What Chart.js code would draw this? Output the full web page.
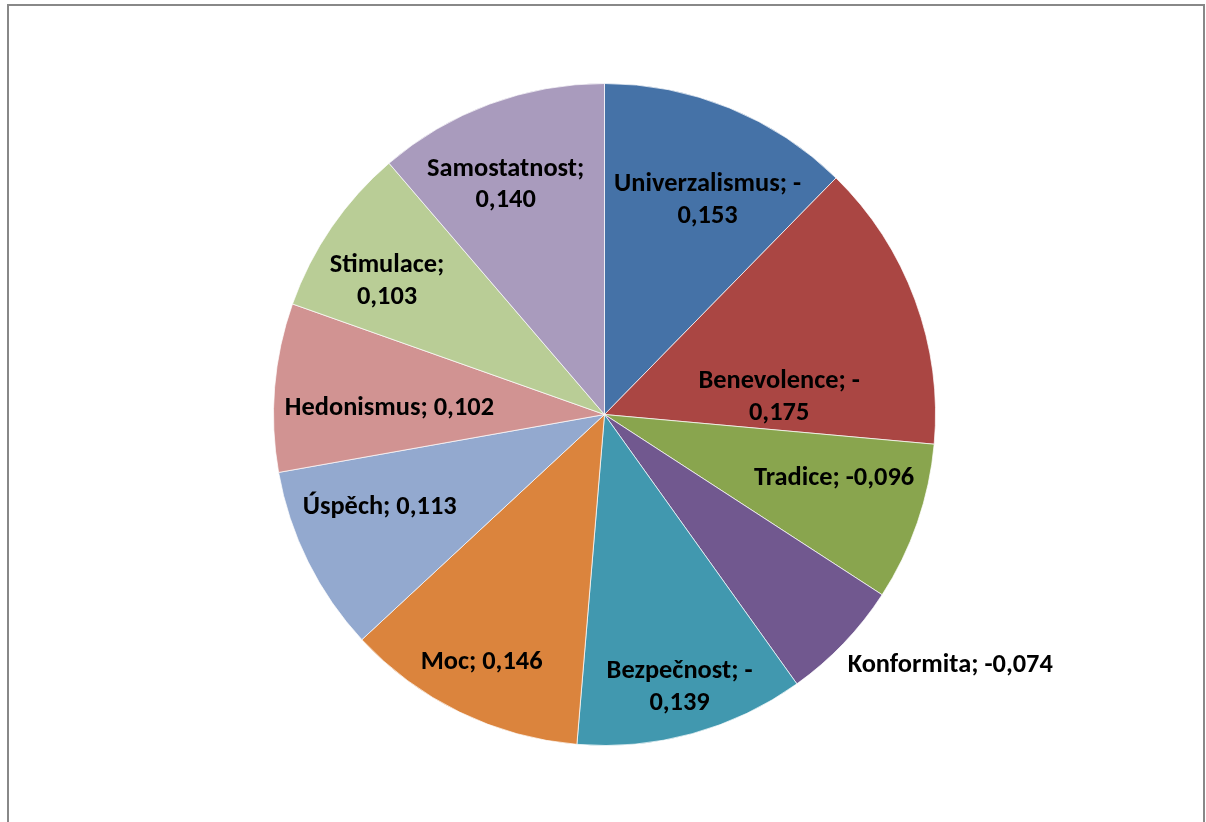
<!DOCTYPE html>
<html><head><meta charset="utf-8">
<script src="https://cdn.jsdelivr.net/npm/chart.js@4.4.0/dist/chart.umd.min.js"></script>
<style>
html,body{margin:0;padding:0;background:#fff;overflow:hidden}
#wrap{position:absolute;left:0;top:0;width:1206px;height:822px}
#frame{position:absolute;left:7px;top:4px;width:1198px;height:840px;border:2px solid #888888;box-sizing:border-box}
#c{position:absolute;left:0;top:0}
</style></head><body>
<div id="wrap"><div id="frame"></div><canvas id="c" width="1206" height="822"></canvas></div>
<script>
const categories = ['Univerzalismus','Benevolence','Tradice','Konformita','Bezpečnost','Moc','Úspěch','Hedonismus','Stimulace','Samostatnost'];
const values = [-0.153,-0.175,-0.096,-0.074,-0.139,0.146,0.113,0.102,0.103,0.140];
const colors = ['#4572A7','#AA4643','#89A54E','#71588F','#4198AF','#DB843D','#93A9CF','#D19392','#B9CD96','#A99BBD'];
const wrapLabel = [true,true,false,false,true,false,false,false,true,true];

// label placement relative to each slice (fraction of radius, angle shift in degrees)
const labelRadius = [0.718,0.53,0.72,1.29,0.855,0.836,0.735,0.65,0.77,0.755];
const labelShift = [3.5,14.7,-3.5,-7.8,0,0.4,4,-3,-3,-3];

const FONT_FAMILY = 'Carlito, Lato, sans-serif';
const FONT_SIZE = 26.4;

function fmt(v){ return Math.abs(v).toFixed(3).replace('.', ','); }
function labelLines(i){
  const v = values[i], neg = v < 0;
  if (wrapLabel[i]) return [categories[i] + ';' + (neg ? ' -' : ''), fmt(v)];
  return [categories[i] + '; ' + (neg ? '-' : '') + fmt(v)];
}

const labelPlugin = {
  id: 'sliceLabels',
  afterDatasetsDraw(chart){
    const ctx = chart.ctx;
    const meta = chart.getDatasetMeta(0);
    ctx.save();
    ctx.font = 'bold ' + FONT_SIZE + 'px ' + FONT_FAMILY;
    ctx.fillStyle = '#000';
    ctx.textAlign = 'center';
    ctx.textBaseline = 'middle';
    const lh = 26 * 1.22;
    meta.data.forEach((arc, i) => {
      const p = arc.getProps(['x','y','startAngle','endAngle','outerRadius'], true);
      const a = (p.startAngle + p.endAngle) / 2 + labelShift[i] * Math.PI / 180;
      const r = p.outerRadius * labelRadius[i];
      const cx = p.x + Math.cos(a) * r, cy = p.y + Math.sin(a) * r;
      const lines = labelLines(i);
      const y0 = cy - (lines.length - 1) * lh / 2;
      lines.forEach((t, k) => ctx.fillText(t, cx, y0 + k * lh));
    });
    ctx.restore();
  }
};

new Chart(document.getElementById('c'), {
  type: 'pie',
  data: {
    labels: categories,
    datasets: [{
      data: values.map(Math.abs),
      backgroundColor: colors,
      borderColor: 'rgba(255,255,255,0.7)',
      borderWidth: 1
    }]
  },
  options: {
    responsive: false,
    animation: false,
    layout: { padding: { top: 83, bottom: 76, left: 100, right: 97 } },
    plugins: { legend: { display: false }, tooltip: { enabled: false } }
  },
  plugins: [labelPlugin]
});
</script>
</body></html>
